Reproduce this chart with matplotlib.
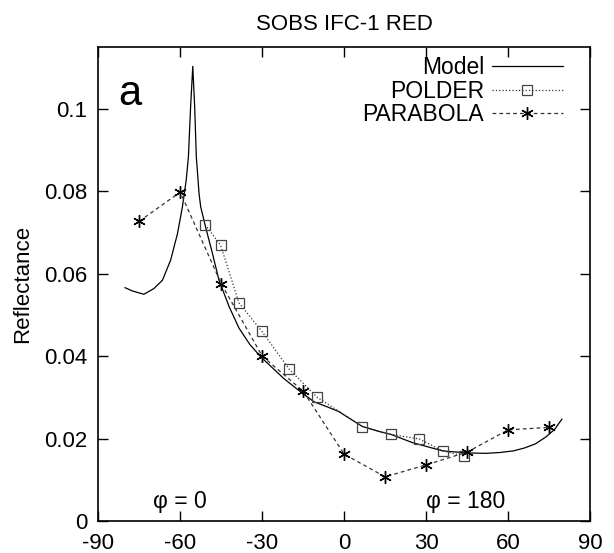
import numpy as np
import matplotlib
matplotlib.use('Agg')
import matplotlib.pyplot as plt
from matplotlib.ticker import FuncFormatter

plt.rcParams['font.family'] = ['Liberation Sans', 'DejaVu Sans']
plt.rcParams['axes.unicode_minus'] = False

# 模型曲线
model_x = [-80.2, -77.5, -73.3, -69.6, -66.5, -63.5, -61.0, -59.2, -57.8, -57.0,
           -56.2, -55.4, -54.7, -54.1, -53.1, -52.5, -50.7, -48.2, -45.8, -42.1,
           -38.5, -34.5, -30.5, -26.0, -22.0, -15.3, -11.0, -5.5, -1.8, 0.0,
           6.7, 12.8, 17.1, 25.0, 36.0, 45.0, 51.9, 57.0, 62.0, 66.0,
           70.0, 73.9, 77.0, 79.7]
model_y = [0.0566, 0.0558, 0.0550, 0.0564, 0.0584, 0.0633, 0.0697, 0.0762, 0.0827, 0.0883,
           0.1004, 0.1103, 0.1004, 0.0883, 0.0794, 0.0762, 0.0713, 0.0649, 0.0584, 0.0520,
           0.0468, 0.0428, 0.0398, 0.0370, 0.0345, 0.0310, 0.0289, 0.0275, 0.0265, 0.0257,
           0.0229, 0.0217, 0.0210, 0.0190, 0.0170, 0.0165, 0.0164, 0.0166, 0.0170, 0.0177,
           0.0187, 0.0204, 0.0222, 0.0247]

# POLDER
polder_x = [-50.9, -45.2, -38.5, -30.2, -20.1, -9.9, 6.7, 17.1, 27.5, 36.0, 43.7]
polder_y = [0.0719, 0.0669, 0.0529, 0.0461, 0.0368, 0.0300, 0.0229, 0.0210, 0.0199, 0.0170, 0.0158]

# PARABOLA
parab_x = [-75, -60, -45, -30, -15, 0, 15, 30, 45, 60, 75]
parab_y = [0.0727, 0.0798, 0.0576, 0.0400, 0.0315, 0.0162, 0.0107, 0.0136, 0.0167, 0.0221, 0.0227]

x_ticks = [-90, -60, -30, 0, 30, 60, 90]
y_ticks = [0, 0.02, 0.04, 0.06, 0.08, 0.1]

fig = plt.figure(figsize=(6.14, 5.53), dpi=100)
ax = fig.add_axes([0.16, 0.058, 0.801, 0.857])

ax.plot(model_x, model_y, '-', color='black', lw=0.9, label='Model')
ax.plot(polder_x, polder_y, ':', color='#333333', lw=0.9, marker='s', markersize=7,
        markerfacecolor='none', markeredgecolor='#444444', markeredgewidth=0.9,
        label='POLDER')
ax.plot(parab_x, parab_y, '--', color='#333333', lw=0.9, dashes=(3, 2.5),
        marker=(6, 2, 0), markersize=9, markeredgewidth=1.0, markeredgecolor='black',
        label='PARABOLA')

ax.set_xlim(-90, 90)
ax.set_ylim(0, 0.115)
ax.set_xticks(x_ticks)
ax.set_yticks(y_ticks)
ax.yaxis.set_major_formatter(FuncFormatter(lambda v, p: '0' if v == 0 else f'{v:g}'))
ax.tick_params(direction='in', length=7, width=1, top=True, right=True, labelsize=16)
ax.tick_params(axis='x', pad=9)
ax.tick_params(axis='y', pad=8)
for s in ax.spines.values():
    s.set_linewidth(1.2)

ax.set_ylabel('Reflectance', fontsize=16, labelpad=8)
ax.set_title('SOBS IFC-1 RED', fontsize=16, pad=12)

ax.text(-82.5, 0.1035, 'a', fontsize=30, ha='left', va='center')
ax.text(-70, 0.0032, 'φ = 0', fontsize=16.5, ha='left', va='baseline')
ax.text(30, 0.0032, 'φ = 180', fontsize=16.5, ha='left', va='baseline')

ax.legend(loc='upper right', frameon=False, markerfirst=False, fontsize=16.5,
          handlelength=3.1, handletextpad=0.35, labelspacing=0.02,
          borderpad=0, borderaxespad=0, bbox_to_anchor=(0.945, 0.98))

fig.savefig('out.png', dpi=100)
